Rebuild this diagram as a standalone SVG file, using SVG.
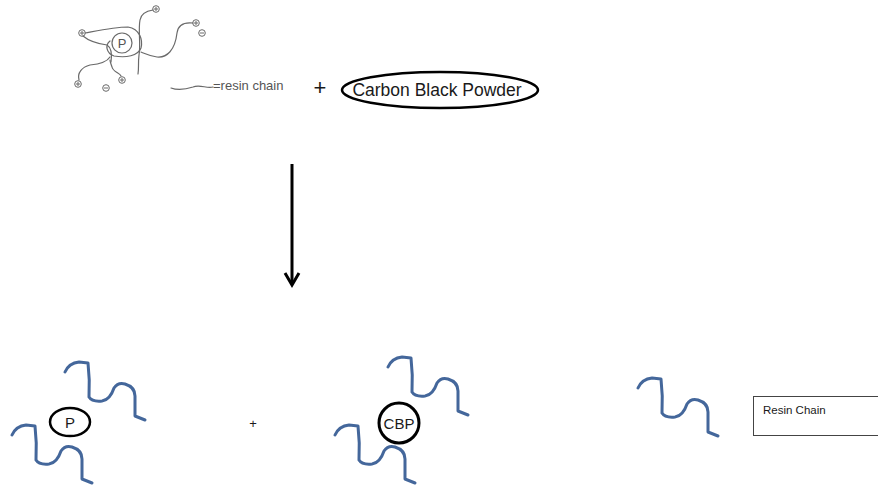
<svg xmlns="http://www.w3.org/2000/svg" xmlns:xlink="http://www.w3.org/1999/xlink" width="878" height="485" viewBox="0 0 878 485">
  <style>
    .sketch { fill: none; stroke: #6a6a6a; stroke-width: 1.2; stroke-linecap: round; }
    .chain { fill: none; stroke: #44679b; stroke-width: 3; stroke-linecap: round; stroke-linejoin: round; }
    .node { fill: #ffffff; stroke: #000000; }
    .lbl { font-family: "Liberation Sans", "Open Sans", sans-serif; fill: #1a1a1a; }
  </style>
  <defs>
    <!-- one resin chain, drawn from its left end -->
    <path id="chainShape" class="chain" d="M0,0 Q4,-9 14,-10 L23,-9 Q25,8 24,25 Q27,30 37,29 Q45,28 49,16 Q53,10 60,12 Q70,15 70,24 L70,44 L80,48"/>
    <!-- charge markers -->
    <g id="pos"><circle r="3.3" fill="none" stroke="#6a6a6a" stroke-width="1"/><path d="M-2,0 H2 M0,-2 V2" stroke="#6a6a6a" stroke-width="1"/></g>
    <g id="neg"><circle r="3.3" fill="none" stroke="#6a6a6a" stroke-width="1"/><path d="M-2,0 H2" stroke="#6a6a6a" stroke-width="1"/></g>
  </defs>

  <!-- hand-drawn resin particle -->
  <g id="sketch-particle">
    <circle cx="122" cy="43" r="10" class="sketch"/>
    <text x="122" y="48" text-anchor="middle" font-family="Liberation Sans, sans-serif" font-size="13" fill="#555">P</text>
    <path class="sketch" d="M85,33 C96,31 114,27 128,27 C140,29 143,40 141,48 C138,56 126,58 114,56 C106,53 105,45 110,41"/>
    <path class="sketch" d="M83,36 C90,42 100,44 107,45 C112,48 112,55 111,62"/>
    <path class="sketch" d="M153,10 C146,11 141,14 140,20 C138,30 141,45 139,55 C138,63 139,68 138,74"/>
    <path class="sketch" d="M193,23 C184,22 178,25 177,33 C175,50 167,58 157,57 C150,56 146,54 141,52"/>
    <path class="sketch" d="M79,80 C77,73 82,67 90,65 C100,64 107,62 110,57"/>
    <path class="sketch" d="M121,76 C120,73 113,72 112,67 C111,64 110,62 110,60"/>
    <use xlink:href="#pos" x="82" y="33"/>
    <use xlink:href="#pos" x="156" y="9"/>
    <use xlink:href="#pos" x="196" y="23"/>
    <use xlink:href="#neg" x="202" y="33"/>
    <use xlink:href="#pos" x="78" y="84"/>
    <use xlink:href="#neg" x="106" y="88"/>
    <use xlink:href="#pos" x="122" y="80"/>
    <path class="sketch" d="M171,88 C179,91 187,89 193,87 C200,84 207,89 213,87"/>
    <text x="213" y="90" font-family="Liberation Sans, sans-serif" font-size="13" fill="#555">=resin chain</text>
  </g>

  <text class="lbl" x="320" y="95" font-size="22" text-anchor="middle">+</text>

  <g id="carbon-black-powder">
    <ellipse cx="440" cy="90" rx="98" ry="18" class="node" stroke-width="2.5"/>
    <text class="lbl" x="437" y="96" font-size="17.5" text-anchor="middle">Carbon Black Powder</text>
  </g>

  <g id="connectors">
    <line x1="292" y1="164" x2="292" y2="284" stroke="#000" stroke-width="3"/>
    <path d="M285,273 L292,285 L299,273" fill="none" stroke="#000" stroke-width="3" stroke-linejoin="miter"/>
  </g>

  <g id="particle-p">
    <use xlink:href="#chainShape" x="65" y="372"/>
    <use xlink:href="#chainShape" x="12" y="435"/>
    <ellipse cx="70" cy="422" rx="20" ry="14" class="node" stroke-width="2.5"/>
    <text class="lbl" x="70" y="428" font-size="15" text-anchor="middle">P</text>
  </g>

  <text class="lbl" x="253" y="428" font-size="13" text-anchor="middle">+</text>

  <g id="particle-cbp">
    <use xlink:href="#chainShape" x="388" y="367"/>
    <use xlink:href="#chainShape" x="335" y="435"/>
    <circle cx="399" cy="423" r="20" class="node" stroke-width="3"/>
    <text class="lbl" x="399" y="429" font-size="15" text-anchor="middle">CBP</text>
  </g>

  <g id="legend-chain">
    <use xlink:href="#chainShape" x="638" y="388"/>
  </g>

  <g id="legend-label">
    <rect x="753.5" y="396.5" width="130" height="39" fill="#fff" stroke="#444" stroke-width="1"/>
    <text class="lbl" x="763" y="414" font-size="11.5">Resin Chain</text>
  </g>
</svg>
